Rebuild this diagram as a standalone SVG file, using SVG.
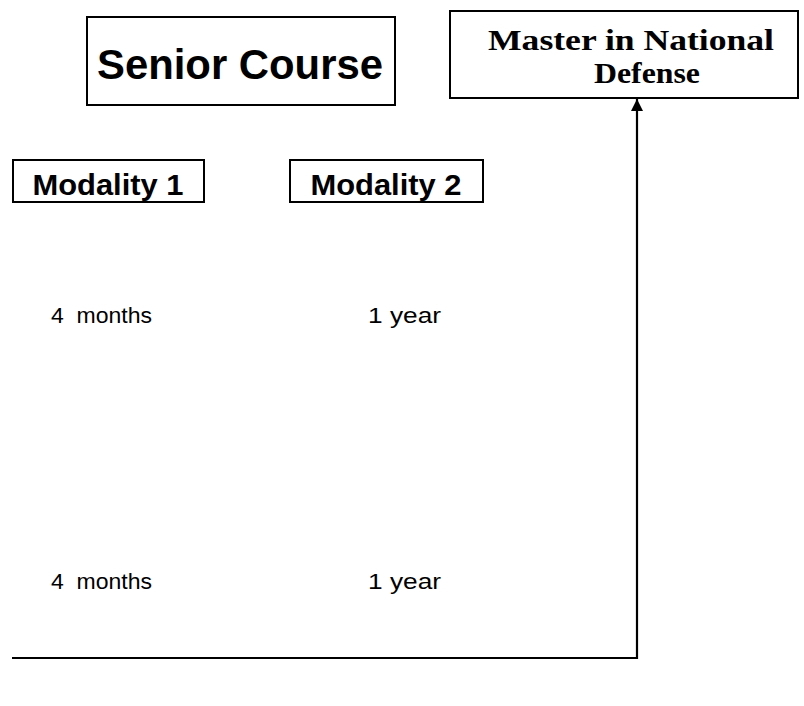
<svg xmlns="http://www.w3.org/2000/svg" width="804" height="706" viewBox="0 0 804 706">
<style>
.box{fill:#fff;stroke:#000;stroke-width:2}
.sans{font-family:"Liberation Sans",Arial,sans-serif;fill:#000}
.b{font-weight:bold}
.serif{font-family:"Liberation Serif","Times New Roman",serif;font-weight:bold;fill:#000}
.conn{fill:none;stroke:#000;stroke-width:2.2}
</style>
<defs>
<marker id="ah" markerWidth="12" markerHeight="12" refX="10" refY="5" orient="auto" markerUnits="userSpaceOnUse" viewBox="0 0 10 10">
<path d="M0,0 L10,5 L0,10 Z" fill="#000"/>
</marker>
</defs>
<rect width="804" height="706" fill="#fff"/>
<g id="senior-course">
<rect class="box" x="87" y="17" width="308" height="88"/>
<text class="sans b" x="240" y="79" font-size="43" text-anchor="middle" textLength="286" lengthAdjust="spacingAndGlyphs">Senior Course</text>
</g>
<g id="master">
<rect class="box" x="450" y="11" width="348" height="87"/>
<text class="serif" x="631" y="50" font-size="29" text-anchor="middle" textLength="286" lengthAdjust="spacingAndGlyphs">Master in National</text>
<text class="serif" x="647" y="83" font-size="29" text-anchor="middle" textLength="106" lengthAdjust="spacingAndGlyphs">Defense</text>
</g>
<g id="modality1">
<rect class="box" x="13" y="160" width="191" height="42"/>
<text class="sans b" x="108" y="195" font-size="30" text-anchor="middle" textLength="151" lengthAdjust="spacingAndGlyphs">Modality 1</text>
</g>
<g id="modality2">
<rect class="box" x="290" y="160" width="193" height="42"/>
<text class="sans b" x="386" y="195" font-size="30" text-anchor="middle" textLength="151" lengthAdjust="spacingAndGlyphs">Modality 2</text>
</g>
<g id="labels">
<text class="sans" x="51" y="323" font-size="22" xml:space="preserve" textLength="101" lengthAdjust="spacingAndGlyphs">4  months</text>
<text class="sans" x="368" y="323" font-size="22" textLength="73" lengthAdjust="spacingAndGlyphs">1 year</text>
<text class="sans" x="51" y="589" font-size="22" xml:space="preserve" textLength="101" lengthAdjust="spacingAndGlyphs">4  months</text>
<text class="sans" x="368" y="589" font-size="22" textLength="73" lengthAdjust="spacingAndGlyphs">1 year</text>
</g>
<g id="connectors">
<path class="conn" d="M12,658 H637 V99" marker-end="url(#ah)"/>
</g>
</svg>
